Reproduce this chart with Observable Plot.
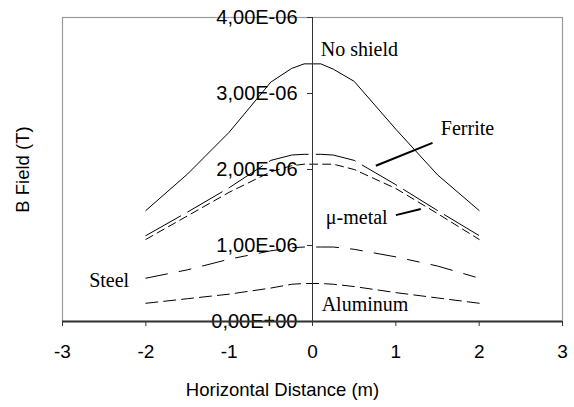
<!DOCTYPE html>
<html>
<head>
<meta charset="utf-8">
<script src="https://cdn.jsdelivr.net/npm/d3@7"></script>
<script src="https://cdn.jsdelivr.net/npm/@observablehq/plot@0.6"></script>
<style>
  html, body { margin: 0; padding: 0; background: #fff; }
  #chart svg { display: block; }
</style>
</head>
<body>
<div id="chart"></div>
<script>
// Horizontal distance (m) of the sample points
const distances = [-2, -1.5, -1, -0.5, -0.25, -0.1, 0.1, 0.25, 0.5, 1, 1.5, 2];

// B field (T) for each shielding case
const noShield = [1.46e-6, 1.94e-6, 2.49e-6, 3.15e-6, 3.33e-6, 3.39e-6, 3.39e-6, 3.32e-6, 3.16e-6, 2.53e-6, 1.93e-6, 1.46e-6];
const ferrite  = [1.13e-6, 1.44e-6, 1.76e-6, 2.12e-6, 2.19e-6, 2.20e-6, 2.20e-6, 2.19e-6, 2.12e-6, 1.80e-6, 1.46e-6, 1.13e-6];
const muMetal  = [1.08e-6, 1.39e-6, 1.70e-6, 1.97e-6, 2.05e-6, 2.07e-6, 2.07e-6, 2.07e-6, 2.00e-6, 1.75e-6, 1.42e-6, 1.08e-6];
const steel    = [0.57e-6, 0.68e-6, 0.82e-6, 0.93e-6, 0.97e-6, 0.98e-6, 0.98e-6, 0.98e-6, 0.95e-6, 0.85e-6, 0.73e-6, 0.57e-6];
const aluminum = [0.24e-6, 0.30e-6, 0.36e-6, 0.44e-6, 0.49e-6, 0.50e-6, 0.50e-6, 0.49e-6, 0.46e-6, 0.38e-6, 0.31e-6, 0.24e-6];

const seriesNames = ["No shield", "Ferrite", "μ-metal", "Steel", "Aluminum"];
const seriesValues = [noShield, ferrite, muMetal, steel, aluminum];
const seriesDash = ["none", "40,8", "8,5", "22,12,12,12", "12,6"];

// Axis ticks
const xTicks = [-3, -2, -1, 0, 1, 2, 3];
const xTickLabels = ["-3", "-2", "-1", "0", "1", "2", "3"];
const yTicks = [0, 1e-6, 2e-6, 3e-6, 4e-6];
const yTickLabels = ["0,00E+00", "1,00E-06", "2,00E-06", "3,00E-06", "4,00E-06"];

// In-chart labels (data coordinates)
const labelText = ["No shield", "Ferrite", "μ-metal", "Steel", "Aluminum"];
const labelX = [0.10, 1.54, 0.16, -2.68, 0.11];
const labelY = [3.58e-6, 2.54e-6, 1.37e-6, 0.54e-6, 0.22e-6];

// Leader lines
const leaderX1 = [1.44, 1.00];
const leaderY1 = [2.35e-6, 1.40e-6];
const leaderX2 = [0.76, 1.30];
const leaderY2 = [2.05e-6, 1.48e-6];

const labels = labelText.map((t, i) => ({text: t, x: labelX[i], y: labelY[i]}));
const leaders = leaderX1.map((x1, i) => ({x1, y1: leaderY1[i], x2: leaderX2[i], y2: leaderY2[i]}));
const yTickData = yTicks.map((v, i) => ({v, label: yTickLabels[i]}));

const lineMarks = seriesNames.map((name, s) =>
  Plot.line(distances.map((d, i) => ({x: d, y: seriesValues[s][i]})), {
    x: "x", y: "y", stroke: "black", strokeWidth: 1,
    strokeDasharray: seriesDash[s] === "none" ? null : seriesDash[s]
  })
);

const chart = Plot.plot({
  width: 574,
  height: 407,
  marginLeft: 62,
  marginRight: 12,
  marginTop: 17,
  marginBottom: 86,
  style: {fontFamily: "'Liberation Sans', Arial, sans-serif", fontSize: "19px", color: "black", background: "white"},
  x: {type: "linear", domain: [-3, 3], axis: null},
  y: {type: "linear", domain: [0, 4e-6], axis: null},
  marks: [
    Plot.frame({stroke: "#9a9a9a", strokeWidth: 1.2}),
    ...lineMarks,
    Plot.link(leaders, {x1: "x1", y1: "y1", x2: "x2", y2: "y2", stroke: "black", strokeWidth: 2}),
    // vertical axis at x = 0
    Plot.ruleX([0], {stroke: "#333", strokeWidth: 1}),
    Plot.ruleY(yTickData, {y: "v", x1: -0.06, x2: 0, stroke: "#333"}),
    Plot.text(yTickData, {x: 0, y: "v", text: "label", textAnchor: "end", dx: -15, fontSize: 20}),
    // horizontal axis
    Plot.ruleY([0], {stroke: "#333", strokeWidth: 2}),
    Plot.ruleX(xTicks, {x: d => d, y1: 0, y2: 0, stroke: "#333", insetBottom: -5}),
    Plot.text(xTicks, {x: d => d, y: 0, text: (d, i) => xTickLabels[i], lineAnchor: "top", dy: 23, fontSize: 19}),
    Plot.text(labels, {x: "x", y: "y", text: "text", textAnchor: "start", fontFamily: "'Liberation Serif', 'Times New Roman', serif", fontSize: 20}),
    Plot.text(["Horizontal Distance (m)"], {frameAnchor: "bottom", textAnchor: "middle", lineAnchor: "middle", dy: 69, dx: -30, fontSize: 18.5}),
    Plot.text(["B Field (T)"], {frameAnchor: "left", textAnchor: "middle", lineAnchor: "middle", dx: -39, rotate: -90, fontSize: 18.5})
  ]
});

document.getElementById("chart").appendChild(chart);
</script>
</body>
</html>
